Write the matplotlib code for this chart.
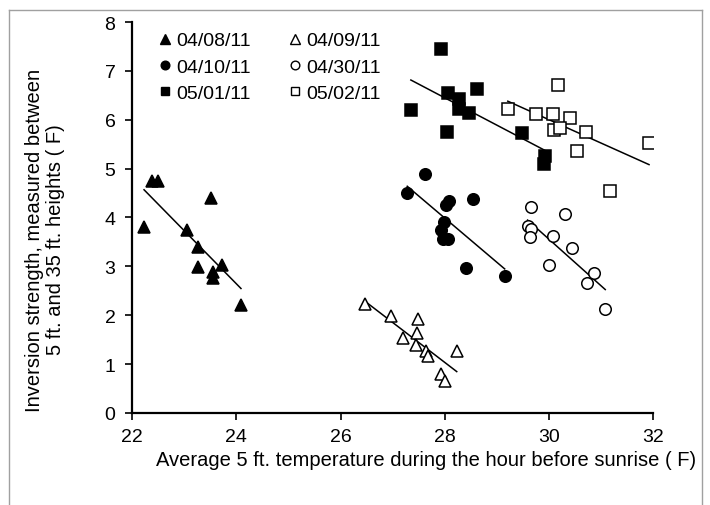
import numpy as np
import matplotlib
matplotlib.use('Agg')
import matplotlib.pyplot as plt
from matplotlib.lines import Line2D

plt.rcParams['font.family'] = ['Liberation Sans', 'DejaVu Sans']

# 各日期的数据 (温度, 逆温强度)
labels = ['04/08/11', '04/09/11', '04/10/11', '04/30/11', '05/01/11', '05/02/11']

x_0408 = [22.23, 22.38, 22.50, 23.05, 23.27, 23.51, 23.27, 23.56, 23.56, 23.73, 24.09]
y_0408 = [3.80, 4.75, 4.74, 3.75, 3.40, 4.39, 2.98, 2.88, 2.77, 3.03, 2.21]

x_0409 = [26.47, 26.97, 27.48, 27.20, 27.46, 27.45, 27.64, 27.67, 28.23, 27.93, 28.01]
y_0409 = [2.23, 1.99, 1.92, 1.53, 1.64, 1.38, 1.27, 1.17, 1.27, 0.80, 0.66]

x_0410 = [27.62, 27.28, 28.08, 28.02, 28.55, 27.98, 27.93, 27.96, 28.07, 28.40, 29.15]
y_0410 = [4.89, 4.51, 4.34, 4.25, 4.37, 3.91, 3.75, 3.56, 3.56, 2.97, 2.81]

x_0430 = [29.66, 30.31, 29.59, 29.65, 29.63, 30.07, 30.45, 30.01, 30.86, 30.73, 31.08]
y_0430 = [4.22, 4.08, 3.83, 3.76, 3.59, 3.63, 3.37, 3.03, 2.86, 2.66, 2.13]

x_0501 = [27.92, 27.35, 28.07, 28.28, 28.28, 28.61, 28.47, 28.05, 29.49, 29.93, 29.91]
y_0501 = [7.44, 6.19, 6.54, 6.42, 6.22, 6.62, 6.13, 5.75, 5.72, 5.26, 5.09]

x_0502 = [29.21, 30.18, 29.75, 30.07, 30.41, 30.09, 30.22, 30.54, 30.71, 31.92, 31.17]
y_0502 = [6.21, 6.71, 6.11, 6.11, 6.04, 5.79, 5.83, 5.36, 5.75, 5.52, 4.54]

xs = [x_0408, x_0409, x_0410, x_0430, x_0501, x_0502]
ys = [y_0408, y_0409, y_0410, y_0430, y_0501, y_0502]
markers = ['^', '^', 'o', 'o', 's', 's']
filled = [True, False, True, False, True, False]
msizes = [9, 9, 8.3, 8.3, 8, 8]

fig = plt.figure(figsize=(7.1, 5.06), dpi=100)
ax = fig.add_axes([0.186, 0.182, 0.734, 0.7725])

handles = []
for x, y, m, f, ms, lab in zip(xs, ys, markers, filled, msizes, labels):
    x = np.array(x)
    y = np.array(y)
    fc = 'black' if f else 'white'
    ax.plot(x, y, linestyle='none', marker=m, ms=ms, mfc=fc, mec='black',
            mew=1.1, zorder=3)
    # 线性趋势线
    k, b = np.polyfit(x, y, 1)
    xx = np.array([x.min(), x.max()])
    ax.plot(xx, k * xx + b, color='black', lw=1.1, zorder=2)
    handles.append(Line2D([], [], linestyle='none', marker=m, ms=ms * 0.75,
                          mfc=fc, mec='black', mew=1.0, label=lab))

ax.set_xlim(22, 32)
ax.set_ylim(0, 8)
ax.set_xticks(range(22, 33, 2))
ax.set_yticks(range(0, 9))
for s in ['top', 'right']:
    ax.spines[s].set_visible(False)
for s in ['left', 'bottom']:
    ax.spines[s].set_linewidth(1.6)
ax.tick_params(direction='out', length=5, width=1.2, labelsize=14)
ax.tick_params(axis='y', pad=7)
ax.tick_params(axis='x', pad=6)

ax.text(-0.167, 0.445, 'Inversion strength, measured between\n5 ft. and 35 ft. heights ( F)',
        transform=ax.transAxes, rotation=90, ha='center', va='center',
        fontsize=14.5, linespacing=1.15)
ax.text(0.564, -0.12, 'Average 5 ft. temperature during the hour before sunrise ( F)',
        transform=ax.transAxes, ha='center', va='center', fontsize=14.5)

# 图例按行排列
order = [0, 2, 4, 1, 3, 5]
ax.legend(handles=[handles[i] for i in order], ncol=2, loc='upper left',
          bbox_to_anchor=(0.035, 0.995), frameon=False, fontsize=14,
          handletextpad=0.25, handlelength=0.7, columnspacing=1.9,
          labelspacing=0.45, borderaxespad=0)

# 外框
fig.add_artist(Line2D([9 / 710, 9 / 710], [0, 1 - 11 / 506], color='#a0a0a0', lw=1))
fig.add_artist(Line2D([9 / 710, 702 / 710], [1 - 11 / 506, 1 - 11 / 506], color='#a0a0a0', lw=1))
fig.add_artist(Line2D([702 / 710, 702 / 710], [0, 1 - 11 / 506], color='#a0a0a0', lw=1))

plt.savefig('out.png', dpi=100)
